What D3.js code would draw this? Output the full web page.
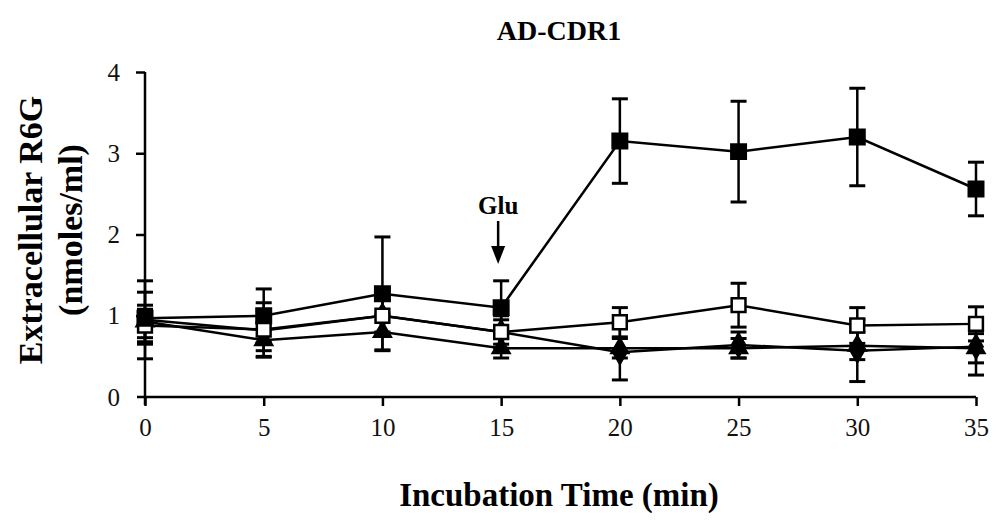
<!DOCTYPE html>
<html><head><meta charset="utf-8">
<script src="https://cdn.jsdelivr.net/npm/d3@7"></script>
<style>body{margin:0;background:#fff}svg{display:block}</style>
</head><body>
<svg id="c" width="998" height="520"></svg>
<script>
const times = [0, 5, 10, 15, 20, 25, 30, 35];
const xTicks = [0, 5, 10, 15, 20, 25, 30, 35];
const yTicks = [0, 1, 2, 3, 4];
const filledSquare = [0.97, 1.0, 1.27, 1.1, 3.15, 3.02, 3.2, 2.56];
const filledSquareErr = [0.32, 0.33, 0.7, 0.33, 0.52, 0.62, 0.6, 0.33];
const openSquare = [0.88, 0.83, 1.0, 0.8, 0.92, 1.13, 0.88, 0.9];
const openSquareErr = [0.2, 0.33, 0.2, 0.2, 0.18, 0.27, 0.22, 0.21];
const filledTriangle = [0.93, 0.7, 0.8, 0.6, 0.6, 0.6, 0.63, 0.6];
const filledTriangleErr = [0.2, 0.21, 0.22, 0.12, 0.12, 0.12, 0.17, 0.18];
const filledDiamond = [0.95, 0.82, 1.0, 0.8, 0.55, 0.64, 0.57, 0.62];
const filledDiamondErr = [0.48, 0.25, 0.25, 0.15, 0.34, 0.16, 0.38, 0.35];
const titleText = "AD-CDR1";
const yTitle = ["Extracellular R6G", "(nmoles/ml)"];
const xTitle = "Incubation Time (min)";
const annotation = {t: 15, label: "Glu"};

const svg = d3.select("#c");
const x = d3.scaleLinear().domain([0, 35]).range([145, 976]);
const y = d3.scaleLinear().domain([0, 4]).range([397, 72]);
const serif = "'Liberation Serif','Times New Roman',serif";

// axes
const xa = svg.append("g").attr("transform", `translate(0,${y(0)})`)
  .call(d3.axisBottom(x).tickValues(xTicks).tickFormat(d3.format("d")).tickSize(9).tickPadding(12).tickSizeOuter(0));
xa.select(".domain").attr("d", `M${x(0)-8},0H${x(35)}`);
const ya = svg.append("g").attr("transform", `translate(${x(0)},0)`)
  .call(d3.axisLeft(y).tickValues(yTicks).tickFormat(d3.format("d")).tickSize(9).tickPadding(16).tickSizeOuter(0));
[xa, ya].forEach(g => {
  g.selectAll("path,line").attr("stroke", "#000").attr("stroke-width", 2.5);
  g.selectAll("text").attr("font-family", serif).attr("font-size", 25).attr("fill", "#111");
});
ya.selectAll(".tick").filter(d => d === 0).select("line").remove();
ya.select(".domain").attr("d", "M0,72V405");

// titles
svg.append("text").attr("x", 559).attr("y", 40).attr("text-anchor", "middle")
  .attr("font-family", serif).attr("font-weight", "bold").attr("font-size", 28).text(titleText);
svg.append("text").attr("x", 559).attr("y", 506).attr("text-anchor", "middle")
  .attr("font-family", serif).attr("font-weight", "bold").attr("font-size", 33).text(xTitle);
const yt = svg.append("text").attr("transform", "translate(42,230) rotate(-90)")
  .attr("text-anchor", "middle").attr("font-family", serif).attr("font-weight", "bold").attr("font-size", 34);
yt.append("tspan").attr("x", 0).attr("dy", 0).text(yTitle[0]);
yt.append("tspan").attr("x", 0).attr("dy", 40).text(yTitle[1]);

// annotation
const ax = x(annotation.t) - 3;
svg.append("text").attr("x", ax).attr("y", 214).attr("text-anchor", "middle")
  .attr("font-family", serif).attr("font-weight", "bold").attr("font-size", 25).text(annotation.label);
svg.append("line").attr("x1", ax).attr("x2", ax).attr("y1", 221).attr("y2", 250)
  .attr("stroke", "#000").attr("stroke-width", 2.5);
svg.append("path").attr("d", `M${ax-7},246L${ax+7},246L${ax},264Z`).attr("fill", "#000");

const series = [
  {v: filledDiamond, e: filledDiamondErr, sym: d3.symbolDiamond, size: 150, fill: "#000"},
  {v: filledTriangle, e: filledTriangleErr, sym: d3.symbolTriangle, size: 120, fill: "#000"},
  {v: openSquare, e: openSquareErr, sym: d3.symbolSquare, size: 190, fill: "#fff"},
  {v: filledSquare, e: filledSquareErr, sym: d3.symbolSquare, size: 210, fill: "#000"},
];
const line = d3.line().x((d, i) => x(times[i])).y(d => y(d));
series.forEach(s => {
  svg.append("path").attr("d", line(s.v)).attr("fill", "none").attr("stroke", "#000").attr("stroke-width", 2.5);
});
series.forEach(s => {
  const g = svg.append("g");
  s.v.forEach((v, i) => {
    const cx = x(times[i]), top = y(v + s.e[i]), bot = y(Math.max(0, v - s.e[i]));
    g.append("line").attr("x1", cx).attr("x2", cx).attr("y1", top).attr("y2", bot).attr("stroke", "#000").attr("stroke-width", 2.5);
    [top, bot].forEach(yy => g.append("line").attr("x1", cx - 8).attr("x2", cx + 8).attr("y1", yy).attr("y2", yy)
      .attr("stroke", "#000").attr("stroke-width", 3));
  });
});
series.forEach(s => {
  svg.append("g").selectAll("path").data(s.v).join("path")
    .attr("transform", (d, i) => `translate(${x(times[i])},${y(d)})`)
    .attr("d", d3.symbol().type(s.sym).size(s.size))
    .attr("fill", s.fill).attr("stroke", "#000").attr("stroke-width", 2.5);
});
</script>
</body></html>
